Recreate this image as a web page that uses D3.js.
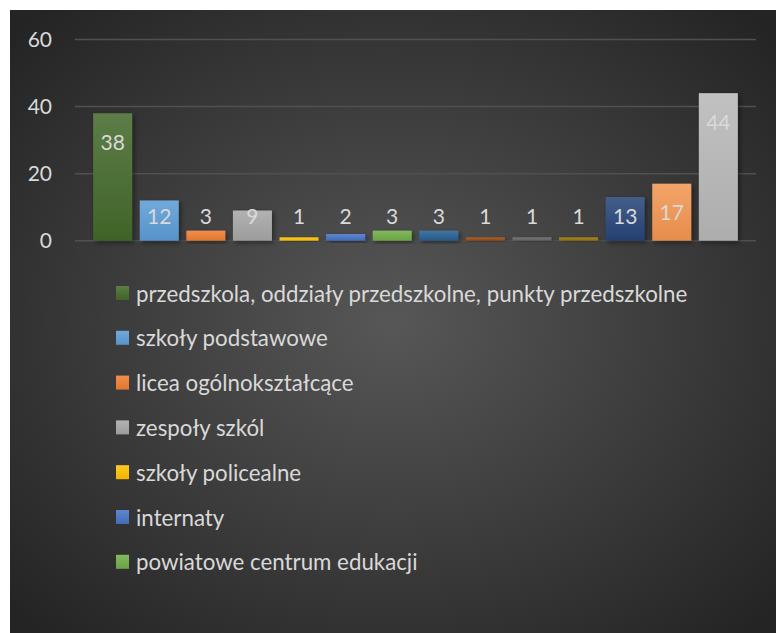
<!DOCTYPE html>
<html lang="pl">
<head>
    <meta charset="UTF-8">
    <title>Placówki oświatowe</title>
    <script src="https://cdn.jsdelivr.net/npm/d3@7"></script>
    <style>
        body { margin: 0; background: #ffffff; }
        text { font-family: Lato, "Open Sans", sans-serif; fill: #d9d9d9; }
    </style>
</head>
<body>
<div id="main"></div>
<script>
    // dane
    const values = [38, 12, 3, 9, 1, 2, 3, 3, 1, 1, 1, 13, 17, 44];
    const barColors = ['#43682a', '#5b9bd5', '#ed7d31', '#a5a5a5', '#ffc000', '#4472c4', '#70ad47',
        '#255e91', '#9e480e', '#636363', '#997300', '#264478', '#f29550', '#b7b7b7'];
    // legenda jest ucięta - widać tylko 7 pierwszych pozycji
    const legendLabels = [
        'przedszkola, oddziały przedszkolne, punkty przedszkolne',
        'szkoły podstawowe',
        'licea ogólnokształcące',
        'zespoły szkól',
        'szkoły policealne',
        'internaty',
        'powiatowe centrum edukacji'
    ];
    const yTicks = [0, 20, 40, 60];

    const width = 776, height = 633;

    const svg = d3.select('#main').append('svg')
        .attr('width', width)
        .attr('height', height);

    const defs = svg.append('defs');

    const bg = defs.append('radialGradient').attr('id', 'bg')
        .attr('cx', '50%').attr('cy', '50%').attr('r', '68%');
    bg.append('stop').attr('offset', '0%').attr('stop-color', '#575757');
    bg.append('stop').attr('offset', '100%').attr('stop-color', '#242424');

    // cień słupków
    const shadow = defs.append('filter').attr('id', 'shadow')
        .attr('x', '-20%').attr('y', '-20%').attr('width', '150%').attr('height', '150%');
    shadow.append('feDropShadow')
        .attr('dx', 2).attr('dy', 2).attr('stdDeviation', 2.5)
        .attr('flood-color', '#000').attr('flood-opacity', 0.45);

    barColors.forEach((c, i) => {
        const g = defs.append('linearGradient').attr('id', 'bar' + i)
            .attr('x1', 0).attr('y1', 0).attr('x2', 0).attr('y2', 1);
        g.append('stop').attr('offset', '0%').attr('stop-color', d3.interpolateRgb(c, '#ffffff')(0.14));
        g.append('stop').attr('offset', '100%').attr('stop-color', d3.color(c).darker(0.15));
    });

    svg.append('rect')
        .attr('x', 10).attr('y', 10)
        .attr('width', width - 10).attr('height', height - 10)
        .attr('fill', 'url(#bg)');

    const x = d3.scaleBand()
        .domain(d3.range(values.length))
        .range([75, 756])
        .paddingInner(0.163)
        .paddingOuter(0.39);

    const y = d3.scaleLinear()
        .domain([0, 60])
        .range([240.7, 39.5]);

    // linie siatki
    svg.append('g')
        .selectAll('line')
        .data(yTicks)
        .enter()
        .append('line')
        .attr('x1', 75).attr('x2', 756)
        .attr('y1', d => y(d)).attr('y2', d => y(d))
        .attr('stroke', '#505050')
        .attr('stroke-width', 1.5);

    // oś Y
    const yAxis = svg.append('g')
        .attr('transform', 'translate(52,0)')
        .call(d3.axisLeft(y).tickValues(yTicks).tickSize(0).tickPadding(0));
    yAxis.select('.domain').remove();
    yAxis.selectAll('text')
        .attr('fill', '#d9d9d9')
        .style('font-family', 'Lato, "Open Sans", sans-serif')
        .style('font-size', '21px');

    const bars = svg.append('g')
        .selectAll('g')
        .data(values)
        .enter()
        .append('g');

    bars.append('rect')
        .attr('x', (d, i) => x(i))
        .attr('y', d => y(d))
        .attr('width', x.bandwidth())
        .attr('height', d => y(0) - y(d))
        .attr('fill', (d, i) => `url(#bar${i})`)
        .attr('filter', 'url(#shadow)');

    bars.append('text')
        .text(d => d)
        .attr('x', (d, i) => x(i) + x.bandwidth() / 2)
        .attr('y', d => Math.min(y(d) + 28, y(0) - 25))
        .attr('text-anchor', 'middle')
        .attr('dominant-baseline', 'central')
        .style('font-size', '21px');

    // legenda
    const legend = svg.append('g')
        .selectAll('g')
        .data(legendLabels)
        .enter()
        .append('g')
        .attr('transform', (d, i) => `translate(116,${293 + i * 44.8})`);

    legend.append('rect')
        .attr('x', 0).attr('y', -7)
        .attr('width', 13).attr('height', 14)
        .attr('fill', (d, i) => `url(#bar${i})`);

    legend.append('text')
        .text(d => d)
        .attr('x', 20)
        .attr('dominant-baseline', 'central')
        .style('font-size', '22.3px');
</script>
</body>
</html>
